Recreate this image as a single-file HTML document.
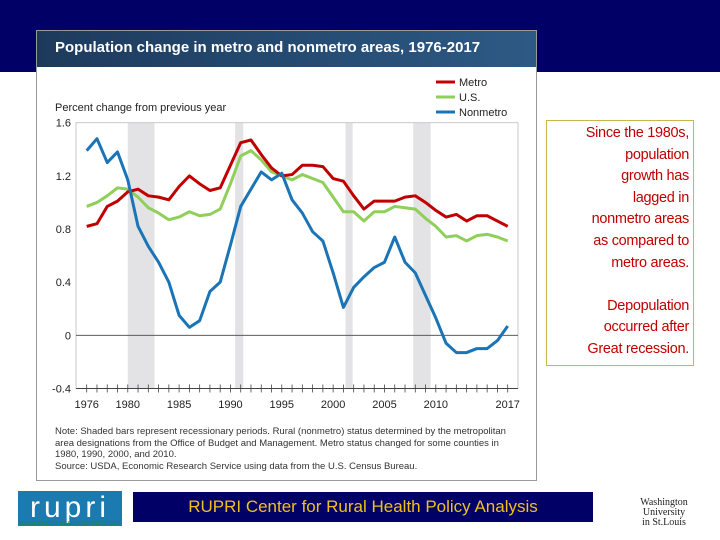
<!DOCTYPE html>
<html><head><meta charset="utf-8"><style>
body{margin:0;width:720px;height:540px;background:#fff;position:relative;overflow:hidden;font-family:"Liberation Sans",sans-serif}
.abs{position:absolute}
</style></head><body>
<div class="abs" style="left:0;top:0;width:720px;height:72px;background:#000066"></div>
<div class="abs" style="left:36px;top:30px;width:499px;height:449px;background:#fff;border:1px solid #999"></div>
<div class="abs" style="left:37px;top:31px;width:499px;height:36px;background:linear-gradient(90deg,#1d3a5c,#2d5a85)"></div>
<div class="abs" style="left:55px;top:39px;color:#fff;font-size:15px;font-weight:bold">Population change in metro and nonmetro areas, 1976-2017</div>
<svg class="abs" style="left:0;top:0" width="720" height="540">
<g id="bands"></g><g id="axes"></g><g id="lines"></g>
<g font-size="11" fill="#222">
<line x1="436" y1="82" x2="455" y2="82" stroke="#c00000" stroke-width="3"/><text x="459" y="86">Metro</text>
<line x1="436" y1="97" x2="455" y2="97" stroke="#8fcf5a" stroke-width="3"/><text x="459" y="101">U.S.</text>
<line x1="436" y1="112" x2="455" y2="112" stroke="#1a74b5" stroke-width="3"/><text x="459" y="116">Nonmetro</text>
</g>
<text x="55" y="111" font-size="11" fill="#222">Percent change from previous year</text>
</svg>
<div class="abs" style="left:55px;top:426px;font-size:9.5px;line-height:11.5px;color:#333;width:470px">Note: Shaded bars represent recessionary periods. Rural (nonmetro) status determined by the metropolitan area designations from the Office of Budget and Management. Metro status changed for some counties in 1980, 1990, 2000, and 2010.<br>Source: USDA, Economic Research Service using data from the U.S. Census Bureau.</div>
<div class="abs" style="left:546px;top:120px;width:148px;height:246px;border:1px solid #c8b84a;box-sizing:border-box"></div>
<div class="abs" style="left:548px;top:123px;width:141px;text-align:right;color:#c00000;font-size:14.5px;line-height:21.6px;white-space:nowrap;letter-spacing:-0.3px">Since the 1980s,<br>population<br>growth has<br>lagged in<br>nonmetro areas<br>as compared to<br>metro areas.<br><br>Depopulation<br>occurred after<br>Great recession.</div>
<div class="abs" style="left:18px;top:491px;width:104px;height:35px;background:#1b7bb0;color:#fff;font-size:30px;line-height:33px;text-align:center;letter-spacing:4px">rupri</div>
<div class="abs" style="left:18px;top:521px;font-size:5.5px;color:#1a8a3a">RURAL POLICY RESEARCH INSTITUTE</div>
<div class="abs" style="left:133px;top:492px;width:460px;height:30px;background:#000066;color:#f0c020;font-size:17px;line-height:30px;text-align:center">RUPRI Center for Rural Health Policy Analysis</div>
<div class="abs" style="left:634px;top:498px;width:60px;text-align:center;font-family:'Liberation Serif',serif;font-size:10px;line-height:10px;color:#222">Washington<br>University<br>in St.Louis</div>
<script>
const years=[];for(let y=1976;y<=2017;y++)years.push(y);
const metro=[0.82,0.84,0.97,1.01,1.08,1.10,1.05,1.04,1.02,1.12,1.20,1.14,1.09,1.11,1.28,1.45,1.47,1.36,1.26,1.20,1.21,1.28,1.28,1.27,1.18,1.16,1.05,0.95,1.01,1.01,1.01,1.04,1.05,1.00,0.94,0.89,0.91,0.86,0.90,0.90,0.86,0.82];
const us=[0.97,1.00,1.05,1.11,1.10,1.04,0.96,0.92,0.87,0.89,0.93,0.90,0.91,0.95,1.14,1.35,1.39,1.32,1.23,1.20,1.17,1.21,1.18,1.15,1.04,0.93,0.93,0.86,0.93,0.93,0.97,0.96,0.95,0.88,0.82,0.74,0.75,0.71,0.75,0.76,0.74,0.71];
const nonmetro=[1.39,1.48,1.30,1.38,1.17,0.82,0.67,0.55,0.40,0.15,0.06,0.11,0.33,0.40,0.68,0.97,1.10,1.23,1.17,1.22,1.02,0.92,0.78,0.71,0.47,0.21,0.36,0.44,0.51,0.55,0.74,0.55,0.47,0.30,0.13,-0.06,-0.13,-0.13,-0.10,-0.10,-0.04,0.07];
const recessionStarts=[1980,1990.45,2001.2,2007.8];
const recessionEnds=[1982.6,1991.25,2001.9,2009.5];
const yTicks=[-0.4,0,0.4,0.8,1.2,1.6];
const yTickLabels=["-0.4","0","0.4","0.8","1.2","1.6"];
const xTickLabels=[1976,1980,1985,1990,1995,2000,2005,2010,2017];
const NS="http://www.w3.org/2000/svg";
const X=y=>86.7+(y-1976)*(421/41);
const Y=v=>335.3-v*(265.7/2);
function mk(tag,attrs,parent){const e=document.createElementNS(NS,tag);for(const k in attrs)e.setAttribute(k,attrs[k]);document.getElementById(parent).appendChild(e);return e;}
for(let i=0;i<recessionStarts.length;i++){
 const r=mk('rect',{x:X(recessionStarts[i]),y:Y(1.6),width:X(recessionEnds[i])-X(recessionStarts[i]),height:Y(-0.4)-Y(1.6),fill:'#e3e3e5'},'bands');
 
 
}
const fr=mk('rect',{x:76,y:Y(1.6),width:442,height:Y(-0.4)-Y(1.6),fill:'none',stroke:'#bbb','stroke-width':0.8},'axes');


const zl=mk('line',{x1:76,x2:518,y1:Y(0),y2:Y(0),stroke:'#444','stroke-width':0.8},'axes');


const xl=mk('line',{x1:76,x2:518,y1:Y(-0.4),y2:Y(-0.4),stroke:'#444','stroke-width':1},'axes');


yTicks.forEach((v,i)=>{
 const t=mk('text',{x:71,y:Y(v)+4,'text-anchor':'end','font-size':11,fill:'#222'},'axes');t.textContent=yTickLabels[i];
 
 
});
years.forEach(y=>{const l=mk('line',{x1:X(y),x2:X(y),y1:Y(-0.4)-4,y2:Y(-0.4)+4,stroke:'#444','stroke-width':0.8},'axes');
 
 });
xTickLabels.forEach(y=>{const t=mk('text',{x:X(y),y:408,'text-anchor':'middle','font-size':11,fill:'#222'},'axes');t.textContent=y;
 
 });
[[us,'#8fcf5a','us-line'],[metro,'#c00000','metro-line'],[nonmetro,'#1a74b5','nonmetro-line']].forEach(([d,c,n])=>{
 const p=mk('polyline',{points:d.map((v,i)=>X(years[i])+','+Y(v)).join(' '),fill:'none',stroke:c,'stroke-width':3,'stroke-linejoin':'round'},'lines');
 
 
});
</script>
</body></html>
